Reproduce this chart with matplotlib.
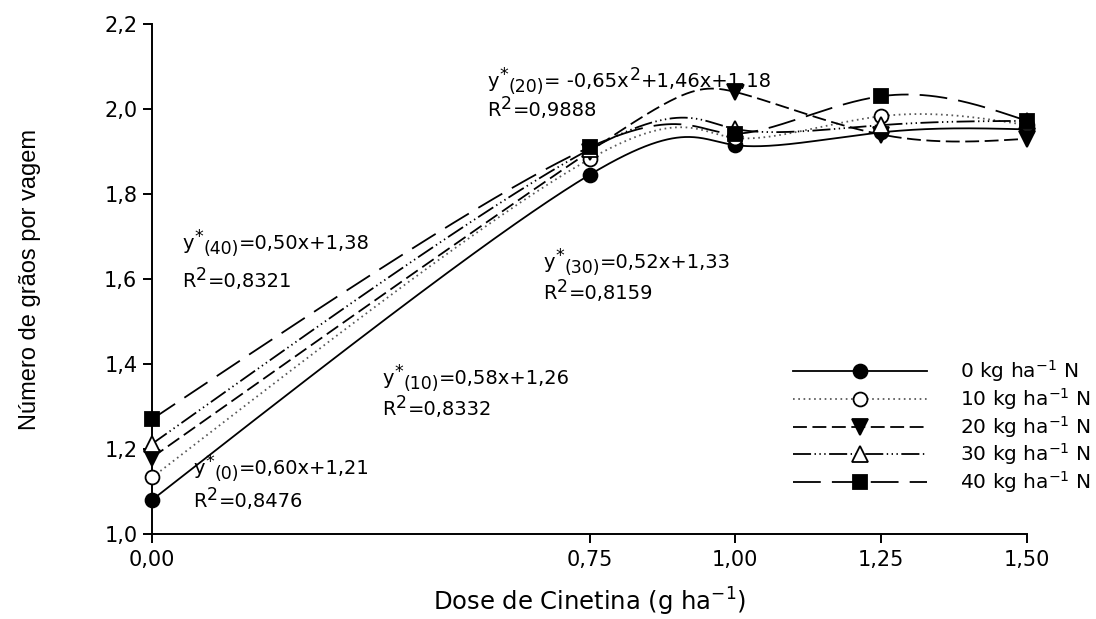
import numpy as np
import matplotlib
matplotlib.use("Agg")
import matplotlib.pyplot as plt
from matplotlib.lines import Line2D

# ---- data ----
doses = [0.0, 0.75, 1.00, 1.25, 1.50]
n0 = [1.08, 1.845, 1.915, 1.945, 1.952]
n10 = [1.133, 1.882, 1.932, 1.983, 1.962]
n20 = [1.180, 1.900, 2.040, 1.940, 1.930]
n30 = [1.212, 1.905, 1.953, 1.962, 1.972]
n40 = [1.270, 1.910, 1.942, 2.030, 1.972]
series_labels = ["0 kg ha$^{-1}$ N", "10 kg ha$^{-1}$ N", "20 kg ha$^{-1}$ N",
                 "30 kg ha$^{-1}$ N", "40 kg ha$^{-1}$ N"]
xtick_vals = [0.0, 0.75, 1.00, 1.25, 1.50]
xtick_labels = ["0,00", "0,75", "1,00", "1,25", "1,50"]
ytick_vals = [1.0, 1.2, 1.4, 1.6, 1.8, 2.0, 2.2]
ytick_labels = ["1,0", "1,2", "1,4", "1,6", "1,8", "2,0", "2,2"]
# equation pieces: (text, kind) kind: 'n' normal, 'sup', 'sub'
eq20 = [("y", "n"), ("*", "sup"), ("(20)", "sub"), ("= -0,65x", "n"), ("2", "sup"), ("+1,46x+1,18", "n")]
eq40 = [("y", "n"), ("*", "sup"), ("(40)", "sub"), ("=0,50x+1,38", "n")]
eq30 = [("y", "n"), ("*", "sup"), ("(30)", "sub"), ("=0,52x+1,33", "n")]
eq10 = [("y", "n"), ("*", "sup"), ("(10)", "sub"), ("=0,58x+1,26", "n")]
eq0 = [("y", "n"), ("*", "sup"), ("(0)", "sub"), ("=0,60x+1,21", "n")]
r2_values = ["=0,9888", "=0,8321", "=0,8159", "=0,8332", "=0,8476"]

plt.rcParams['font.family'] = ['DejaVu Sans']
plt.rcParams['mathtext.default'] = 'regular'
plt.rcParams['lines.scale_dashes'] = False

W, H = 1096, 619


def natural_spline_uniform(v, ts):
    """Natural cubic spline of values v at knots 0..n-1, evaluated at ts."""
    v = np.asarray(v, float)
    n = len(v)
    A = np.zeros((n, n)); b = np.zeros(n)
    A[0, 0] = 1; A[-1, -1] = 1
    for i in range(1, n - 1):
        A[i, i - 1] = 1; A[i, i] = 4; A[i, i + 1] = 1
        b[i] = 6 * (v[i + 1] - 2 * v[i] + v[i - 1])
    M = np.linalg.solve(A, b)
    out = np.empty_like(ts)
    for k, t in enumerate(ts):
        i = int(np.clip(np.floor(t), 0, n - 2))
        u = t - i
        out[k] = ((1 - u) * v[i] + u * v[i + 1]
                  + ((1 - u) ** 3 - (1 - u)) * M[i] / 6 + (u ** 3 - u) * M[i + 1] / 6)
    return out


def parametric_curve(x, y, num=600):
    ts = np.linspace(0, len(x) - 1, num)
    return natural_spline_uniform(x, ts), natural_spline_uniform(y, ts)


fig = plt.figure(figsize=(W / 100, H / 100), dpi=100)
ax = fig.add_axes([152 / W, 1 - 534 / H, (1027 - 152) / W, (534 - 24) / H])

styles = [
    dict(ls='-', color='black', marker='o', mfc='black', ms=10),
    dict(ls=(0, (1.2, 2.6)), color='0.35', marker='o', mfc='white', ms=10),
    dict(ls=(0, (10, 4)), color='black', marker='v', mfc='black', ms=11),
    dict(ls=(0, (13, 2.5, 1, 2.5, 1, 2.5, 1, 2.5)), color='black', marker='^', mfc='white', ms=11),
    dict(ls=(0, (20, 8)), color='black', marker='s', mfc='black', ms=10),
]
LW = 1.3
all_series = [n0, n10, n20, n30, n40]
for vals, st in zip(all_series, styles):
    cx, cy = parametric_curve(doses, vals)
    ax.plot(cx, cy, ls=st['ls'], color=st['color'], lw=LW, clip_on=False, zorder=2)
    ax.plot(doses, vals, ls='none', marker=st['marker'], mfc=st['mfc'], mec='black',
            mew=1.3, ms=st['ms'], clip_on=False, zorder=3)

ax.set_xlim(0, 1.5)
ax.set_ylim(1.0, 2.2)
ax.set_xticks(xtick_vals)
ax.set_xticklabels(xtick_labels)
ax.set_yticks(ytick_vals)
ax.set_yticklabels(ytick_labels)
for sp in ['top', 'right']:
    ax.spines[sp].set_visible(False)
for sp in ['left', 'bottom']:
    ax.spines[sp].set_linewidth(1.4)
ax.tick_params(direction='out', length=6.5, width=1.4, labelsize=15)
ax.tick_params(axis='x', pad=5)
ax.tick_params(axis='y', pad=4)

ax.set_xlabel("Dose de Cinetina (g ha$^{-1}$)", fontsize=17.5)
ax.xaxis.set_label_coords(0.5, (534 - 611) / 510)
ax.xaxis.label.set_va('baseline')
ax.set_ylabel("Número de grãos por vagem", fontsize=17, family=['Liberation Sans', 'DejaVu Sans'])
ax.yaxis.set_label_coords((30 - 152) / 875, 0.5)
ax.yaxis.label.set_va('center')

# ---- rich text equations (positions in pixels: left x, baseline y from top) ----
renderer = fig.canvas.get_renderer()
MAIN, SMALL = 14, 12.5
OFF = {'n': 0, 'sup': 7, 'sub': -5}


def rich_text(px, py_top, parts):
    x = px
    yb = H - py_top
    for s, kind in parts:
        size = MAIN if kind == 'n' else SMALL
        t = fig.text(x / W, (yb + OFF[kind]) / H, s, fontsize=size, va='baseline', ha='left')
        bb = t.get_window_extent(renderer)
        x = bb.x1 + 0.5


eq_list = [eq20, eq40, eq30, eq10, eq0]
eq_pos = [(487, 87, 116), (182, 249, 287), (543, 268, 299), (382, 384, 415), (193, 474, 507)]
for eq, r2, (px, y1, y2) in zip(eq_list, r2_values, eq_pos):
    rich_text(px, y1, eq)
    rich_text(px, y2, [("R", "n"), ("2", "sup"), (r2, "n")])

# ---- legend drawn manually ----
leg_rows = [371, 399, 427, 454, 482]
for st, lab, ry in zip(styles, series_labels, leg_rows):
    yf = 1 - ry / H
    fig.add_artist(Line2D([793 / W, 927 / W], [yf, yf], transform=fig.transFigure,
                          ls=st['ls'], color=st['color'], lw=LW))
    fig.add_artist(Line2D([860 / W], [yf], transform=fig.transFigure, ls='none',
                          marker=st['marker'], mfc=st['mfc'], mec='black', mew=1.3, ms=st['ms']))
    fig.text(960 / W, yf, lab, fontsize=14.5, va='center', ha='left')

fig.savefig("out.png", dpi=100)
